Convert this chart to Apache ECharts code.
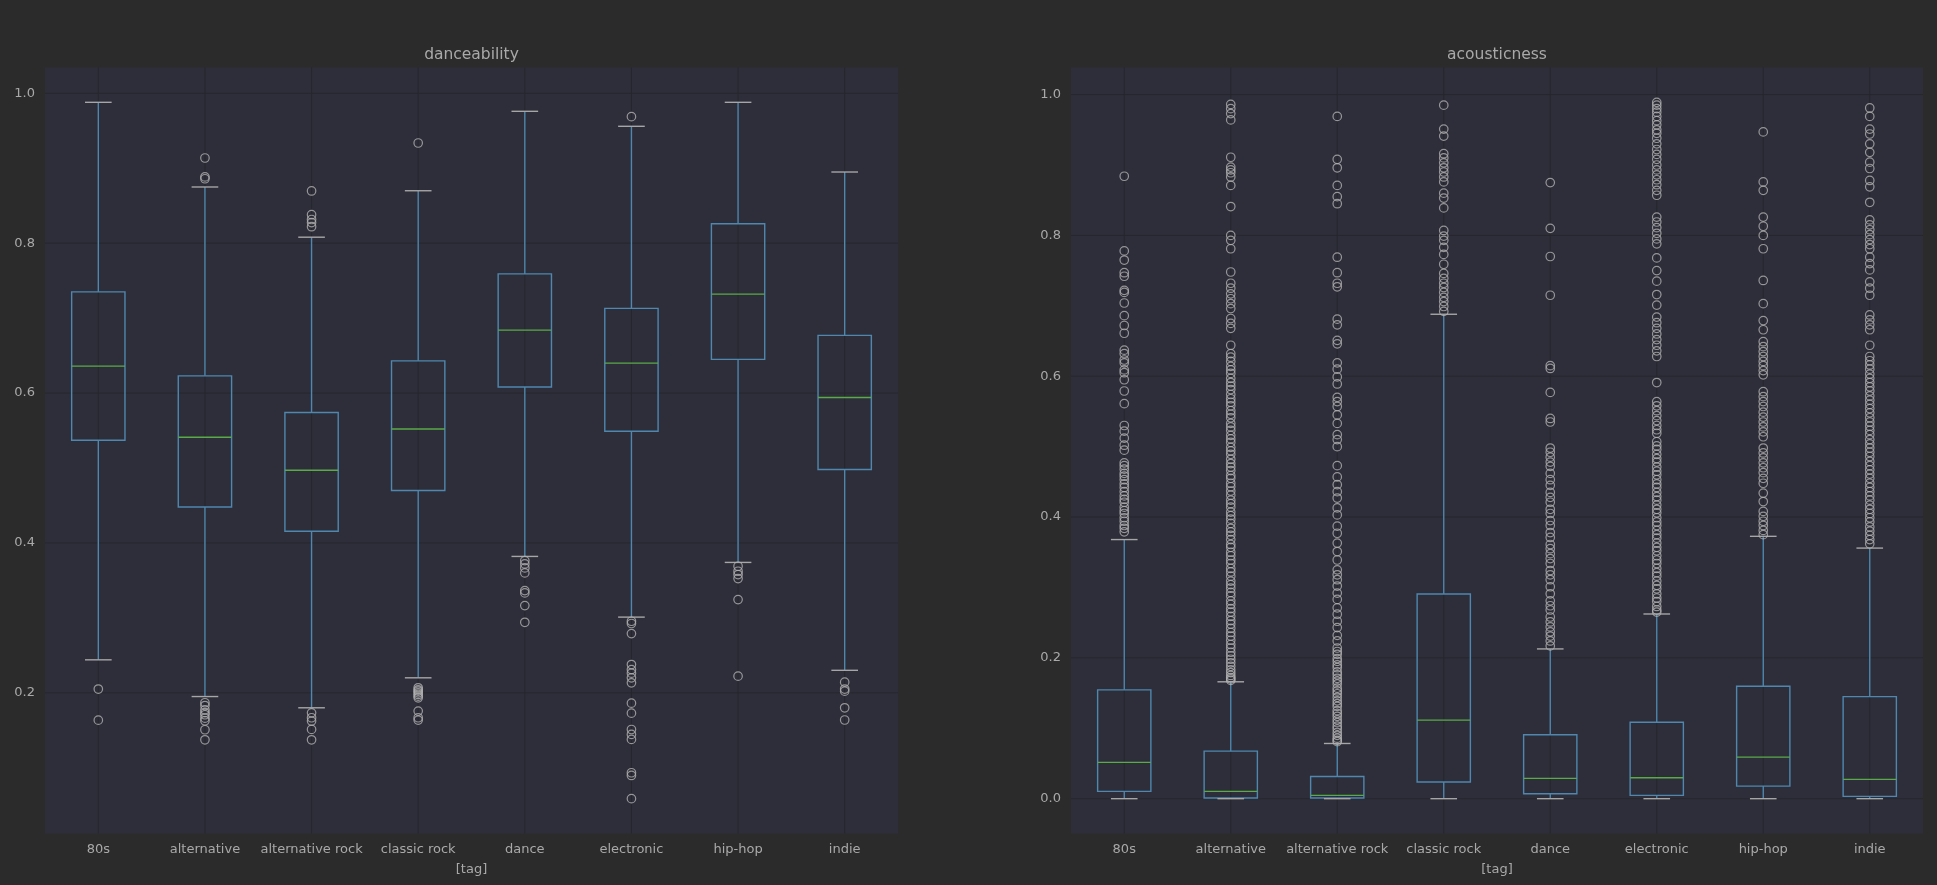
<!DOCTYPE html>
<html>
<head>
<meta charset="utf-8">
<script src="https://cdn.jsdelivr.net/npm/echarts@6.0.0/dist/echarts.min.js"></script>
<style>
html,body{margin:0;padding:0;background:#2b2b2b;}
#chart{width:1937px;height:885px;}
</style>
</head>
<body>
<div id="chart"></div>
<script>
// ---------- data ----------
const categories = ['80s','alternative','alternative rock','classic rock','dance','electronic','hip-hop','indie'];
const panelTitles = ['danceability','acousticness'];
const xAxisName = '[tag]';
const danceTicks = [0.2, 0.4, 0.6, 0.8, 1.0];
const acousticTicks = [0.0, 0.2, 0.4, 0.6, 0.8, 1.0];

// danceability box statistics (lower whisker, q1, median, q3, upper whisker)
const danceLower  = [0.244, 0.195, 0.180, 0.220, 0.382, 0.301, 0.374, 0.230];
const danceQ1     = [0.537, 0.448, 0.4155, 0.470, 0.608, 0.549, 0.645, 0.498];
const danceMedian = [0.636, 0.541, 0.497, 0.552, 0.684, 0.640, 0.732, 0.594];
const danceQ3     = [0.735, 0.623, 0.574, 0.643, 0.759, 0.713, 0.826, 0.677];
const danceUpper  = [0.988, 0.875, 0.808, 0.870, 0.976, 0.956, 0.988, 0.895];

// danceability outliers
const danceOut80s = [0.205, 0.1635];
const danceOutAlternative = [0.9137, 0.8885, 0.8860, 0.1867, 0.1830, 0.1773, 0.1735, 0.1707, 0.1662, 0.1627, 0.1507, 0.1373];
const danceOutAltRock = [0.8697, 0.8380, 0.8316, 0.8275, 0.8220, 0.1733, 0.1667, 0.1622, 0.1511, 0.1373];
const danceOutClassicRock = [0.9337, 0.2067, 0.2040, 0.2022, 0.2000, 0.1978, 0.1955, 0.1933, 0.1756, 0.1667, 0.1636];
const danceOutDance = [0.3764, 0.3720, 0.3667, 0.3600, 0.3364, 0.3333, 0.3164, 0.2941];
const danceOutElectronic = [0.9689, 0.2955, 0.2925, 0.2790, 0.2377, 0.2310, 0.2262, 0.2200, 0.2133, 0.1862, 0.1728, 0.1510, 0.1445, 0.1378, 0.0933, 0.0897, 0.0587];
const danceOutHipHop = [0.3689, 0.3622, 0.3578, 0.3524, 0.3244, 0.2222];
const danceOutIndie = [0.2142, 0.2050, 0.2022, 0.1800, 0.1637];

// acousticness box statistics
const acLower  = [0.0, 0.0, 0.0, 0.0, 0.0, 0.0, 0.0, 0.0];
const acQ1     = [0.0104, 0.0010, 0.0010, 0.0236, 0.0071, 0.0047, 0.0179, 0.0033];
const acMedian = [0.0515, 0.0104, 0.0047, 0.1115, 0.0288, 0.0298, 0.0590, 0.0274];
const acQ3     = [0.1546, 0.0675, 0.0316, 0.2907, 0.0907, 0.1086, 0.1597, 0.1450];
const acUpper  = [0.368, 0.166, 0.0784, 0.688, 0.2127, 0.2623, 0.3726, 0.3559];

// acousticness outliers
const acOut80s = [0.884, 0.778, 0.765, 0.747, 0.742, 0.722, 0.719, 0.704, 0.686, 0.672, 0.661, 0.637, 0.632, 0.623, 0.619, 0.609, 0.605, 0.595, 0.579, 0.561, 0.530, 0.522, 0.512, 0.502, 0.495, 0.477, 0.473, 0.468, 0.462, 0.458, 0.453, 0.447, 0.442, 0.436, 0.430, 0.425, 0.421, 0.414, 0.409, 0.405, 0.399, 0.394, 0.388, 0.384, 0.379];
const acOutAlternative = [0.986, 0.980, 0.973, 0.964, 0.911, 0.897, 0.893, 0.889, 0.883, 0.871, 0.841, 0.800, 0.793, 0.781, 0.748, 0.732, 0.725, 0.717, 0.710, 0.703, 0.696, 0.682, 0.675, 0.668, 0.644,
  0.632, 0.627, 0.621, 0.614, 0.609, 0.604, 0.597, 0.591, 0.586, 0.581, 0.574, 0.568, 0.563, 0.558, 0.551, 0.546, 0.541, 0.533, 0.528, 0.523, 0.516, 0.511, 0.506, 0.499, 0.494, 0.489, 0.482, 0.476, 0.471, 0.466,
  0.459, 0.455, 0.448, 0.443, 0.437, 0.431, 0.424, 0.419, 0.414, 0.407, 0.402, 0.397, 0.391, 0.384, 0.379, 0.374, 0.368, 0.361, 0.357, 0.350, 0.345, 0.339, 0.334, 0.327, 0.322, 0.316, 0.309, 0.304, 0.299,
  0.293, 0.288, 0.281, 0.276, 0.270, 0.265, 0.259, 0.253, 0.248, 0.242, 0.236, 0.231, 0.225, 0.219, 0.214, 0.208, 0.203, 0.198, 0.193, 0.188, 0.183, 0.179, 0.175, 0.172, 0.170, 0.168];
const acOutAltRock = [0.969, 0.908, 0.896, 0.871, 0.855, 0.845, 0.769, 0.747, 0.732, 0.727, 0.681, 0.673, 0.651, 0.646, 0.619, 0.610, 0.599, 0.589, 0.570, 0.564, 0.557, 0.545, 0.533, 0.517, 0.510, 0.500,
  0.473, 0.457, 0.446, 0.436, 0.427, 0.413, 0.403, 0.387, 0.377, 0.363, 0.351, 0.339, 0.325, 0.318, 0.311, 0.302, 0.292, 0.283, 0.271, 0.262, 0.252, 0.243, 0.232, 0.224,
  0.214, 0.209, 0.205, 0.199, 0.195, 0.190, 0.186, 0.180, 0.176, 0.171, 0.167, 0.163, 0.157, 0.153, 0.149, 0.144, 0.139, 0.135, 0.131, 0.125, 0.121, 0.117, 0.112, 0.108, 0.103, 0.099, 0.094, 0.090, 0.086, 0.083, 0.081];
const acOutClassicRock = [0.985, 0.951, 0.941, 0.916, 0.910, 0.903, 0.896, 0.890, 0.883, 0.876, 0.860, 0.853, 0.839, 0.807, 0.799, 0.793, 0.783, 0.773, 0.759, 0.746, 0.739, 0.732, 0.726, 0.719, 0.712, 0.706, 0.699, 0.692];
const acOutDance = [0.875, 0.810, 0.770, 0.715, 0.615, 0.611, 0.577, 0.540, 0.535, 0.498, 0.492, 0.485, 0.478, 0.472, 0.462, 0.453, 0.445, 0.435, 0.428, 0.421, 0.411, 0.405, 0.395, 0.388, 0.378, 0.371, 0.361, 0.355, 0.348, 0.341, 0.334, 0.324, 0.318, 0.311, 0.301, 0.291, 0.281, 0.274, 0.268, 0.258, 0.251, 0.244, 0.237, 0.231, 0.224, 0.217];
const acOutElectronic = [0.989, 0.985, 0.980, 0.975, 0.969, 0.963, 0.957, 0.950, 0.945, 0.938, 0.930, 0.922, 0.915, 0.908, 0.900, 0.893, 0.886, 0.879, 0.872, 0.864, 0.857, 0.826, 0.819, 0.811, 0.803, 0.795, 0.788, 0.768, 0.750, 0.735, 0.716, 0.701,
  0.684, 0.676, 0.668, 0.660, 0.652, 0.644, 0.636, 0.628, 0.591, 0.564, 0.558, 0.551, 0.544, 0.537, 0.530, 0.524, 0.519,
  0.507, 0.501, 0.496, 0.489, 0.483, 0.478, 0.471, 0.465, 0.460, 0.453, 0.447, 0.442, 0.435, 0.429, 0.424, 0.417, 0.411, 0.406, 0.399, 0.393, 0.388, 0.381, 0.375, 0.370, 0.363, 0.357, 0.352, 0.345, 0.339, 0.334, 0.327, 0.321, 0.316, 0.309, 0.303, 0.298, 0.291, 0.285, 0.280, 0.273, 0.268, 0.265];
const acOutHipHop = [0.947, 0.876, 0.864, 0.826, 0.813, 0.800, 0.781, 0.736, 0.703, 0.679, 0.666, 0.649, 0.642, 0.635, 0.628, 0.621, 0.615, 0.608, 0.602, 0.578, 0.571, 0.564, 0.557, 0.549, 0.542, 0.535, 0.528, 0.521, 0.514, 0.498, 0.491, 0.484, 0.477, 0.470, 0.463, 0.455, 0.448, 0.434, 0.422, 0.408, 0.401, 0.394, 0.388, 0.381, 0.375];
const acOutIndie = [0.981, 0.969, 0.951, 0.944, 0.930, 0.918, 0.904, 0.895, 0.878, 0.869, 0.847, 0.822, 0.815, 0.808, 0.801, 0.794, 0.787, 0.781, 0.769, 0.760, 0.751, 0.734, 0.725, 0.715, 0.687, 0.680, 0.673, 0.666, 0.644,
  0.628, 0.622, 0.616, 0.610, 0.603, 0.597, 0.591, 0.585, 0.579, 0.572, 0.566, 0.560, 0.554, 0.548, 0.541, 0.535, 0.529, 0.523, 0.517, 0.510, 0.504, 0.498, 0.492, 0.486, 0.479, 0.473, 0.467, 0.461, 0.455, 0.448, 0.442, 0.436, 0.430, 0.424, 0.417, 0.411, 0.405, 0.399, 0.393, 0.386, 0.380, 0.374, 0.368, 0.362];

const danceOutliers = [danceOut80s, danceOutAlternative, danceOutAltRock, danceOutClassicRock, danceOutDance, danceOutElectronic, danceOutHipHop, danceOutIndie];
const acOutliers = [acOut80s, acOutAlternative, acOutAltRock, acOutClassicRock, acOutDance, acOutElectronic, acOutHipHop, acOutIndie];

// ---------- style ----------
const FIG_BG = '#2b2b2b';
const AX_BG = '#2e2e3a';
const GRID_C = '#26262d';
const BOX_C = '#4f87ae';
const MED_C = '#5aaa48';
const CAP_C = '#a6a6a6';
const FLIER_C = '#b2b2b2';
const TEXT_C = '#a9a9a9';
const FONT = 'DejaVu Sans';
const LW = 1.4;

// ---------- helpers ----------
function boxData(lo, q1, med, q3, hi) {
  return categories.map((c, i) => [i, lo[i], q1[i], med[i], q3[i], hi[i]]);
}
function flierData(lists) {
  const out = [];
  lists.forEach((arr, i) => arr.forEach(v => out.push([i, v])));
  return out;
}
function extent(stats, fliers) {
  let mn = Infinity, mx = -Infinity;
  stats.forEach(a => a.forEach(v => { mn = Math.min(mn, v); mx = Math.max(mx, v); }));
  fliers.forEach(a => a.forEach(v => { mn = Math.min(mn, v); mx = Math.max(mx, v); }));
  const r = mx - mn;
  return [mn - 0.05 * r, mx + 0.05 * r];
}

function renderBox(params, api) {
  const i = api.value(0);
  const pts = [1, 2, 3, 4, 5].map(k => api.coord([i, api.value(k)]));
  const x = pts[0][0];
  const band = api.size([1, 0])[0];
  const hb = band * 0.25, hc = band * 0.125;
  const yLo = pts[0][1], yQ1 = pts[1][1], yMed = pts[2][1], yQ3 = pts[3][1], yHi = pts[4][1];
  return {
    type: 'group',
    children: [
      {type: 'line', shape: {x1: x, y1: yQ1, x2: x, y2: yLo}, style: {stroke: BOX_C, lineWidth: LW}},
      {type: 'line', shape: {x1: x, y1: yQ3, x2: x, y2: yHi}, style: {stroke: BOX_C, lineWidth: LW}},
      {type: 'rect', shape: {x: x - hb, y: yQ3, width: 2 * hb, height: yQ1 - yQ3}, style: {fill: 'none', stroke: BOX_C, lineWidth: LW}},
      {type: 'line', shape: {x1: x - hb, y1: yMed, x2: x + hb, y2: yMed}, style: {stroke: MED_C, lineWidth: LW}},
      {type: 'line', shape: {x1: x - hc, y1: yLo, x2: x + hc, y2: yLo}, style: {stroke: CAP_C, lineWidth: LW}},
      {type: 'line', shape: {x1: x - hc, y1: yHi, x2: x + hc, y2: yHi}, style: {stroke: CAP_C, lineWidth: LW}}
    ]
  };
}

function hGridSeries(idx, ticks) {
  return {
    type: 'custom', xAxisIndex: idx, yAxisIndex: idx, z: 0, silent: true,
    data: ticks.map(v => [0, v]),
    renderItem: (params, api) => {
      const cs = params.coordSys;
      const y = api.coord([0, api.value(1)])[1];
      return {type: 'line', shape: {x1: cs.x, y1: y, x2: cs.x + cs.width, y2: y}, style: {stroke: GRID_C, lineWidth: 1}};
    }
  };
}
function vGridSeries(idx, yRef) {
  return {
    type: 'custom', xAxisIndex: idx, yAxisIndex: idx, z: 0, silent: true,
    data: categories.map((c, i) => [i, yRef]),
    renderItem: (params, api) => {
      const cs = params.coordSys;
      const x = api.coord([api.value(0), api.value(1)])[0];
      return {type: 'line', shape: {x1: x, y1: cs.y, x2: x, y2: cs.y + cs.height}, style: {stroke: GRID_C, lineWidth: 1}};
    }
  };
}

const danceStats = [danceLower, danceQ1, danceMedian, danceQ3, danceUpper];
const acStats = [acLower, acQ1, acMedian, acQ3, acUpper];
const danceExt = extent(danceStats, danceOutliers);
const acExt = extent(acStats, acOutliers);

const grids = [
  {left: 45, top: 67.5, width: 853, height: 766},
  {left: 1071, top: 67.5, width: 852, height: 766}
];

function xAxisFor(idx) {
  return {
    type: 'category', gridIndex: idx, data: categories,
    axisLine: {show: false}, axisTick: {show: false}, splitLine: {show: false},
    axisLabel: {color: TEXT_C, fontFamily: FONT, fontSize: 13, margin: 10, interval: 0},
    name: xAxisName, nameLocation: 'middle', nameGap: 29.5,
    nameTextStyle: {color: TEXT_C, fontFamily: FONT, fontSize: 13}
  };
}
function yAxisFor(idx, ext, ticks) {
  return {
    type: 'value', gridIndex: idx, min: ext[0], max: ext[1],
    axisLine: {show: false}, axisTick: {show: false}, splitLine: {show: false},
    axisLabel: {
      color: TEXT_C, fontFamily: FONT, fontSize: 13, margin: 10,
      customValues: ticks,
      formatter: v => Number(v).toFixed(1)
    }
  };
}

const chart = echarts.init(document.getElementById('chart'), null, {renderer: 'canvas'});
chart.setOption({
  backgroundColor: FIG_BG,
  animation: false,
  title: panelTitles.map((t, i) => ({
    text: t,
    left: grids[i].left + grids[i].width / 2,
    top: 46.5,
    textAlign: 'center',
    padding: 0,
    textStyle: {color: TEXT_C, fontFamily: FONT, fontSize: 15.5, fontWeight: 'normal'}
  })),
  grid: grids.map(g => Object.assign({show: true, backgroundColor: AX_BG, borderWidth: 0, containLabel: false}, g)),
  xAxis: [xAxisFor(0), xAxisFor(1)],
  yAxis: [yAxisFor(0, danceExt, danceTicks), yAxisFor(1, acExt, acousticTicks)],
  series: [
    hGridSeries(0, danceTicks),
    vGridSeries(0, 0.5),
    hGridSeries(1, acousticTicks),
    vGridSeries(1, 0.5),
    {
      type: 'custom', name: 'danceability', xAxisIndex: 0, yAxisIndex: 0, z: 2,
      data: boxData(danceLower, danceQ1, danceMedian, danceQ3, danceUpper),
      encode: {x: 0, y: [1, 2, 3, 4, 5]},
      renderItem: renderBox
    },
    {
      type: 'custom', name: 'acousticness', xAxisIndex: 1, yAxisIndex: 1, z: 2,
      data: boxData(acLower, acQ1, acMedian, acQ3, acUpper),
      encode: {x: 0, y: [1, 2, 3, 4, 5]},
      renderItem: renderBox
    },
    {
      type: 'scatter', xAxisIndex: 0, yAxisIndex: 0, z: 3, symbol: 'circle', symbolSize: 8.5,
      itemStyle: {color: 'rgba(0,0,0,0)', borderColor: FLIER_C, borderWidth: 1.2},
      data: flierData(danceOutliers)
    },
    {
      type: 'scatter', xAxisIndex: 1, yAxisIndex: 1, z: 3, symbol: 'circle', symbolSize: 8.5,
      itemStyle: {color: 'rgba(0,0,0,0)', borderColor: FLIER_C, borderWidth: 1.2},
      data: flierData(acOutliers)
    }
  ]
});
</script>
</body>
</html>
